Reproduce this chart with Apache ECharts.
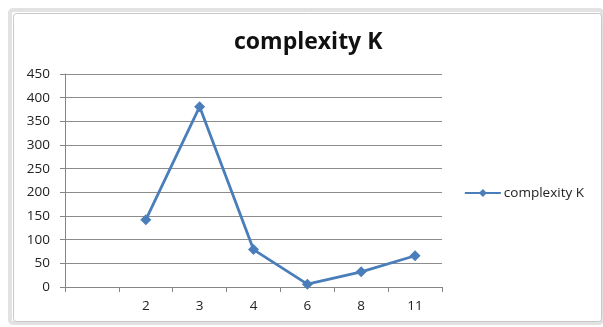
<!DOCTYPE html>
<html>
<head>
<meta charset="utf-8">
<script src="https://cdn.jsdelivr.net/npm/echarts@6/dist/echarts.min.js"></script>
<style>html,body{margin:0;padding:0;background:#fff;}#c{width:603px;height:327px;}</style>
</head>
<body>
<div id="c"></div>
<script>
const categories = ['', '2', '3', '4', '6', '8', '11'];
const values = [null, 142, 381, 79, 6, 32, 66];
const yTicks = { min: 0, max: 450, interval: 50 };
const seriesName = 'complexity K';

const chart = echarts.init(document.getElementById('c'));
const font = 'Open Sans, Liberation Sans, sans-serif';
chart.setOption({
  animation: false,
  backgroundColor: '#fff',
  graphic: [
    { type: 'rect', shape: { x: 10, y: 10, width: 592, height: 313, r: 3 }, style: { fill: 'none', stroke: '#e2e2e2', lineWidth: 4 }, silent: true, z: -1 },
    { type: 'rect', shape: { x: 13.5, y: 13.5, width: 588, height: 308, r: 3 }, style: { fill: '#fff', stroke: '#c8c8c8', lineWidth: 1 }, silent: true, z: -1 }
  ],
  title: {
    text: seriesName,
    left: 229,
    top: 26,
    textStyle: { fontFamily: font, fontWeight: 'bold', fontSize: 23, color: '#111' }
  },
  legend: {
    right: 14,
    top: 181,
    itemWidth: 36,
    itemHeight: 10,
    itemGap: 4,
    textStyle: { fontFamily: font, fontSize: 13.5, color: '#222', padding: [0, 0, 0, -2] },
    data: [seriesName]
  },
  grid: { left: 65, right: 161, top: 74, bottom: 40 },
  xAxis: {
    type: 'category',
    data: categories,
    boundaryGap: true,
    axisLine: { lineStyle: { color: '#868686', width: 1 } },
    axisTick: { show: true, length: 5, lineStyle: { color: '#868686' } },
    axisLabel: { fontFamily: font, fontSize: 13.5, color: '#222', margin: 12 },
    splitLine: { show: false }
  },
  yAxis: {
    type: 'value',
    min: yTicks.min,
    max: yTicks.max,
    interval: yTicks.interval,
    axisLine: { show: true, lineStyle: { color: '#868686', width: 1 } },
    axisTick: { show: true, length: 5, lineStyle: { color: '#868686' } },
    axisLabel: { fontFamily: font, fontSize: 13.5, color: '#222', margin: 15 },
    splitLine: { lineStyle: { color: '#8c8c8c', width: 1 } }
  },
  series: [{
    name: seriesName,
    type: 'line',
    data: values,
    symbol: 'diamond',
    symbolSize: 11,
    connectNulls: false,
    lineStyle: { color: '#4a7ebb', width: 2.8 },
    itemStyle: { color: '#4a7ebb' }
  }]
});
</script>
</body>
</html>
